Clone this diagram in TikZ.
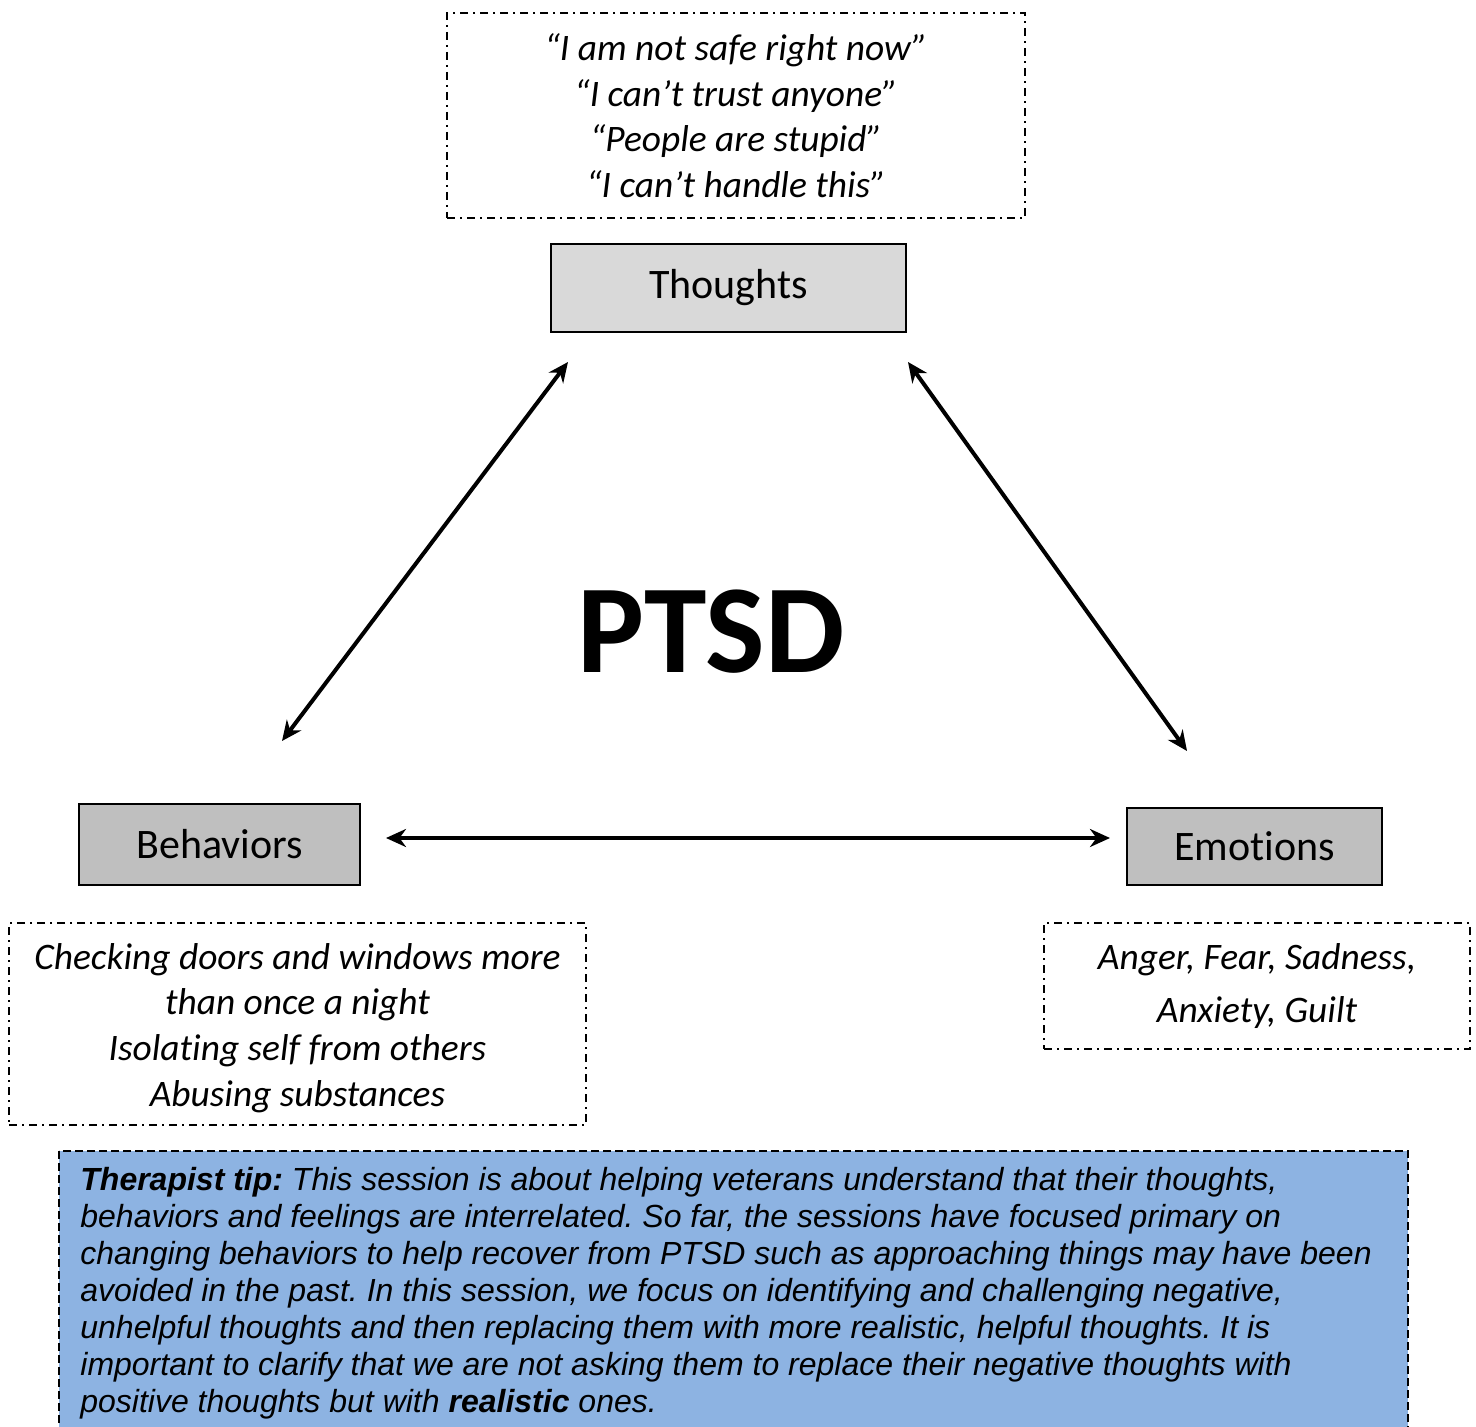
\documentclass[tikz,border=0pt]{standalone}
\usepackage{fontspec}
\setmainfont{Carlito}[Ligatures=NoCommon]
\newfontfamily\tipfont{Liberation Sans}
\usetikzlibrary{arrows.meta}
\definecolor{thoughtgray}{HTML}{D9D9D9}
\definecolor{boxgray}{HTML}{BFBFBF}
\definecolor{tipblue}{HTML}{8DB3E2}
\tikzset{
	dashdot/.style={draw, line width=0.9pt, dash pattern=on 4pt off 2.5pt on 1pt off 2.5pt},
	labelbox/.style={draw, line width=1pt, inner sep=0pt, font=\fontsize{21}{25}\selectfont},
	listtext/.style={align=center, inner sep=0pt, font=\fontsize{18.7}{22.8}\selectfont\itshape},
	linkarrow/.style={{Stealth[length=10pt,width=9pt]}-{Stealth[length=10pt,width=9pt]}, line width=2pt},
}

\begin{document}
\frenchspacing
\begin{tikzpicture}[x=0.5pt,y=-0.5pt]
				\useasboundingbox (0,0) rectangle (1476,1427);
				\node[dashdot, listtext, minimum width=289pt, minimum height=102.5pt] (thoughtlist) at (736,115.5) {“I am not safe right now”\\“I can’t trust anyone”\\“People are stupid”\\“I can’t handle this”};
				\node[labelbox, fill=thoughtgray, minimum width=177.5pt, minimum height=44pt] (thoughts) at (728.5,288) {\raisebox{1.5pt}{Thoughts}};
				\node[labelbox, fill=boxgray, minimum width=140.5pt, minimum height=40.5pt] (behaviors) at (219.5,844.5) {Behaviors};
				\node[labelbox, fill=boxgray, minimum width=127.5pt, minimum height=38.5pt] (emotions) at (1254.5,846.5) {Emotions};
				\node[dashdot, minimum width=288.5pt, minimum height=101pt] (behaviorlist) at (297.5,1024) {};
				\node[listtext] (behaviortext) at (297.5,1028) {Checking doors and windows more\\than once a night\\Isolating self from others\\Abusing substances};
				\node[dashdot, listtext, font=\fontsize{18.7}{26.5}\selectfont\itshape, minimum width=213pt, minimum height=63pt] (emotionlist) at (1257,986) {Anger, Fear, Sadness,\\Anxiety, Guilt};
				\node[font=\fontsize{63}{70}\selectfont\bfseries] (ptsd) at (711,632) {PTSD};
				\coordinate (tb) at (568,362);
				\coordinate (bt) at (282,741);
				\coordinate (te) at (908,362);
				\coordinate (et) at (1187,751);
				\coordinate (be) at (386,838);
				\coordinate (eb) at (1110,838);
				\draw[linkarrow] (tb) -- (bt);
				\draw[linkarrow] (te) -- (et);
				\draw[linkarrow] (be) -- (eb);
				\draw[fill=tipblue, line width=1.4pt, dash pattern=on 4pt off 2pt] (59,1151) rectangle (1408,1470);
				\node[anchor=north west, align=left, inner sep=0pt, font=\tipfont\itshape\fontsize{16}{18.5}\selectfont] (tiptext) at (80,1167) {\textbf{Therapist tip:} This session is about helping veterans understand that their thoughts,\\behaviors and feelings are interrelated. So far, the sessions have focused primary on\\changing behaviors to help recover from PTSD such as approaching things may have been\\avoided in the past. In this session, we focus on identifying and challenging negative,\\unhelpful thoughts and then replacing them with more realistic, helpful thoughts. It is\\important to clarify that we are not asking them to replace their negative thoughts with\\positive thoughts but with \textbf{realistic} ones.};
			\end{tikzpicture}
\end{document}
